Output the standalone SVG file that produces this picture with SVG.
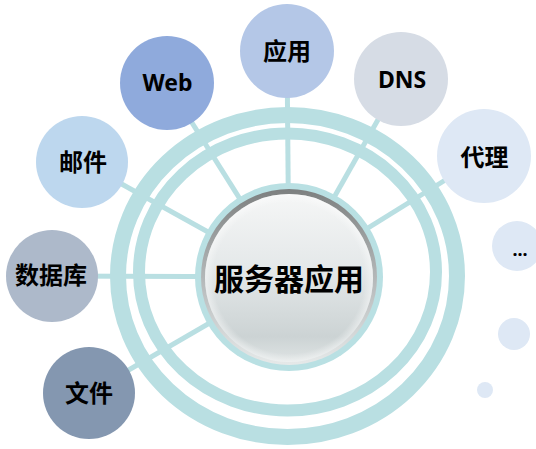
<svg xmlns="http://www.w3.org/2000/svg" width="536" height="449" viewBox="0 0 536 449">
<defs>
<linearGradient id="bevel" x1="0" y1="0" x2="0" y2="1">
<stop offset="0" stop-color="#7d8080"/>
<stop offset="0.5" stop-color="#b3b7b8"/>
<stop offset="1" stop-color="#e6e9e9"/>
</linearGradient>
<linearGradient id="face" x1="0" y1="0" x2="0" y2="1">
<stop offset="0" stop-color="#f5f6f6"/>
<stop offset="0.45" stop-color="#e4e8e9"/>
<stop offset="0.85" stop-color="#ccd3d4"/>
<stop offset="1" stop-color="#dfe4e4"/>
</linearGradient>
<radialGradient id="rim" cx="0.5" cy="0.5" r="0.5">
<stop offset="0.9" stop-color="#ffffff" stop-opacity="0"/>
<stop offset="1" stop-color="#ffffff" stop-opacity="0.45"/>
</radialGradient>
</defs>
<style>
.spoke{stroke:#b9dfe2;stroke-width:5;fill:none}
.ring{fill:none;stroke:#b9dfe2}
.lbl{font-family:"Noto Sans","Noto Sans CJK SC",sans-serif;font-weight:bold;fill:#000;text-anchor:middle}
.cjk{font-size:24px}
.lat{font-size:23px}
</style>
<g id="connectors">
<line class="spoke" x1="89" y1="393" x2="289" y2="277"/>
<line class="spoke" x1="52" y1="276" x2="289" y2="277"/>
<line class="spoke" x1="82" y1="162" x2="289" y2="277"/>
<line class="spoke" x1="167" y1="83" x2="289" y2="277"/>
<line class="spoke" x1="287" y1="51" x2="289" y2="277"/>
<line class="spoke" x1="401" y1="79" x2="289" y2="277"/>
<line class="spoke" x1="484" y1="156" x2="289" y2="277"/>
</g>
<g id="rings">
<ellipse class="ring" cx="287.5" cy="276" rx="169.5" ry="161" stroke-width="16"/>
<ellipse class="ring" cx="287.5" cy="272" rx="148.5" ry="138.5" stroke-width="12"/>
</g>
<g id="center">
<circle cx="289" cy="277" r="94" fill="#b9e0e3"/>
<circle cx="289" cy="277" r="88" fill="url(#bevel)"/>
<circle cx="289" cy="278" r="84" fill="url(#face)"/>
<circle cx="289" cy="278" r="84" fill="url(#rim)"/>
<text class="lbl" x="289" y="290" font-size="30">服务器应用</text>
</g>
<g id="n-wenjian">
<circle cx="89" cy="393" r="46" fill="#8497b0"/>
<text class="lbl cjk" x="89" y="402">文件</text>
</g>
<g id="n-shujuku">
<circle cx="52" cy="276" r="46" fill="#adb9ca"/>
<text class="lbl cjk" x="51" y="284">数据库</text>
</g>
<g id="n-youjian">
<circle cx="82" cy="162" r="46" fill="#bdd7ee"/>
<text class="lbl cjk" x="83" y="171">邮件</text>
</g>
<g id="n-web">
<circle cx="167" cy="83" r="47" fill="#8faadc"/>
<text class="lbl lat" x="167.5" y="91">Web</text>
</g>
<g id="n-yingyong">
<circle cx="287" cy="51" r="47" fill="#b4c7e7"/>
<text class="lbl cjk" x="287" y="60">应用</text>
</g>
<g id="n-dns">
<circle cx="401" cy="79" r="47" fill="#d6dce5"/>
<text class="lbl lat" x="402" y="88">DNS</text>
</g>
<g id="n-daili">
<circle cx="484" cy="156" r="47" fill="#dee8f5"/>
<text class="lbl cjk" x="484.5" y="166">代理</text>
</g>
<g id="n-more">
<circle cx="517" cy="246" r="25" fill="#dee8f5"/>
<text class="lbl" x="520" y="256" font-size="18">...</text>
</g>
<g id="dots">
<circle cx="514" cy="334" r="16" fill="#dee8f5"/>
<circle cx="485" cy="390" r="8" fill="#dee8f5"/>
</g>
</svg>
